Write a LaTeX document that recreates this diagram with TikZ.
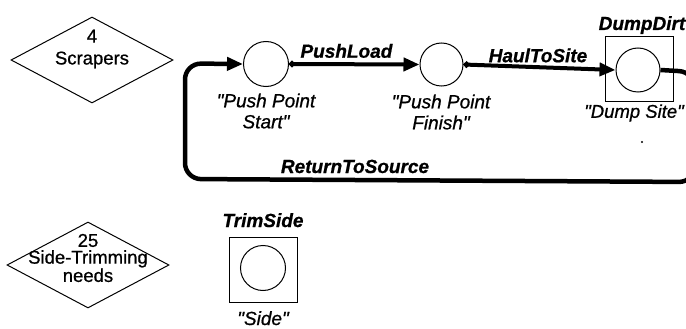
\documentclass[tikz,border=0pt]{standalone}
\usepackage{fontspec}
\setmainfont{Liberation Sans}
\newfontfamily\arl[FakeBold=0.8]{Liberation Sans}
\usetikzlibrary{arrows.meta,shapes.geometric}
\begin{document}
\begin{tikzpicture}[x=1pt,y=-1pt,
  res/.style={draw, diamond, minimum width=162pt, minimum height=86pt, inner sep=0pt, line width=1pt},
  ev/.style={draw, circle, minimum size=44pt, inner sep=0pt, line width=1pt},
  act/.style={draw, rectangle, minimum width=68pt, minimum height=65pt, inner sep=0pt, line width=1pt},
  restext/.style={align=center, inner sep=0pt, font=\arl\fontsize{18.5}{22}\selectfont},
  lbl/.style={font=\arl\fontsize{19}{22}\selectfont\bfseries\itshape, inner sep=0pt},
  captxt/.style={align=center, font=\arl\fontsize{19}{21}\selectfont\itshape, inner sep=0pt},
  flow/.style={line width=4pt, {Circle[length=6pt]}-{Triangle[length=16pt,width=13pt]}},
  loopflow/.style={line width=4.5pt, rounded corners=16pt, -{Triangle[length=16pt,width=13pt]}}]
\useasboundingbox (0,0) rectangle (686,329);
\clip (0,0) rectangle (686,329);
% resources
\node[res] (r1) at (92,60) {};
\node[restext] (r1t) at (92,49) {4\\Scrapers};
\node[res] (r2) at (88,265) {};
\node[restext, font=\arl\fontsize{18.5}{16.8}\selectfont] (r2t) at (88,258) {25\\Side-Trimming\\needs};
% events
\node[ev, minimum size=45pt] (c1) at (266,64) {};
\node[ev, minimum size=43pt] (c2) at (441.5,64.5) {};
\node[act] (sq1) at (639,69.5) {};
\node[ev] (c3) at (638,70) {};
\node[act] (sq2) at (263,269.5) {};
\node[ev, minimum size=45pt] (c4) at (263,268) {};
% captions
\node[captxt] (c1t) at (266,111) {"Push Point\\Start"};
\node[captxt] (c2t) at (441,112) {"Push Point\\Finish"};
\node[captxt, font=\arl\fontsize{18.5}{21}\selectfont\itshape] (c3t) at (634,113) {"Dump Site"};
\node[captxt, anchor=base] (c4t) at (263,325) {"Side"};
\node[lbl, anchor=base] (l3) at (642,30) {DumpDirt};
\node[lbl, anchor=base] (l4) at (263,227) {TrimSide};
% connectors
\draw[flow] (c1.east) -- node[lbl, pos=0.44, anchor=base, yshift=6.5pt] {PushLoad} (c2.west);
\draw[flow] (c2.east) -- node[lbl, pos=0.49, anchor=base, yshift=5pt] {HaulToSite} (c3.west);
\coordinate (k1) at (695,72);
\coordinate (k2) at (695,182);
\coordinate (k3) at (185,179);
\coordinate (k4) at (185,63.5);
\draw[loopflow] (c3.east) -- (k1) -- (k2) -- (k3) -- (k4) -- (c1.west);
\node[lbl, anchor=base] (l5) at (355,173) {ReturnToSource};
\fill (642,142) circle (1.2pt);
\end{tikzpicture}
\end{document}
